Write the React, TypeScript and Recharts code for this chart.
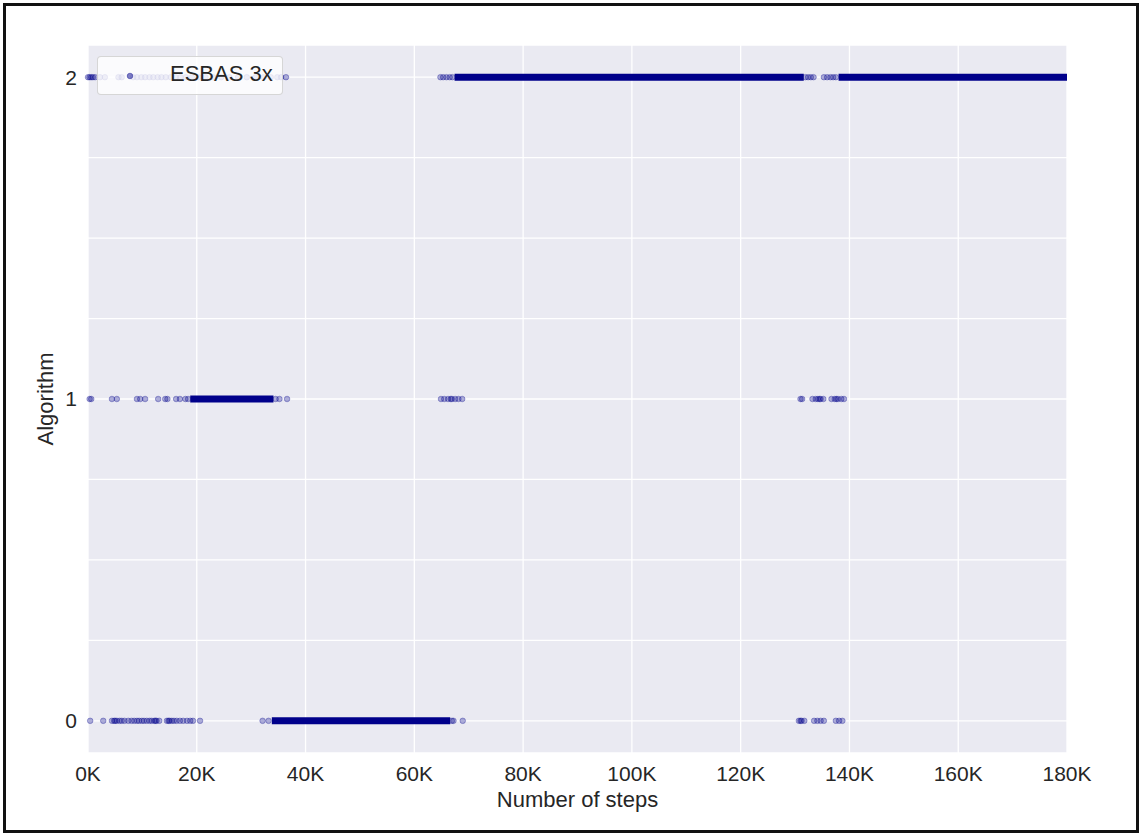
import React from 'react';
import {ScatterChart, Scatter, XAxis, YAxis, CartesianGrid, ReferenceLine, Legend} from 'recharts';

const NAVY = '#00008B';
const FONT = '"Liberation Sans", Arial, Helvetica, sans-serif';

// axis ticks (x in thousands of steps)
const X_TICKS = [0, 20, 40, 60, 80, 100, 120, 140, 160, 180];
const Y_TICKS = [0, 1, 2];
const Y_MINOR = [0.25, 0.5, 0.75, 1.25, 1.5, 1.75];

// algorithm 0: single picks + long dense stretches [from, to]
const ALGO0_POINTS = [
  0.4, 2.8, 4.4, 4.8, 5.0, 5.3, 5.8, 6.2, 6.7, 7.4, 8.0, 8.5, 9.0, 9.4, 9.9, 10.3, 10.8, 11.3, 11.7, 12.2,
  12.4, 12.6, 13.1, 14.5, 14.8, 15.0, 15.4, 15.8, 16.3, 16.9, 17.5, 18.2, 18.8, 19.3, 20.6, 32.1, 33.2, 66.9,
  67.2, 68.9, 130.7, 131.0, 131.2, 131.7, 133.5, 134.1, 134.7, 135.3, 137.5, 138.1, 138.7,
];
const ALGO0_RUNS = [[33.8, 66.6]];

// algorithm 1
const ALGO1_POINTS = [
  0.3, 0.6, 4.4, 5.3, 9.0, 9.6, 10.5, 12.9, 14.2, 14.6, 16.2, 16.9, 17.9, 18.4, 34.5, 35.2, 36.6, 64.9,
  65.5, 66.2, 66.7, 66.9, 67.5, 68.1, 68.8, 131.0, 131.3, 133.2, 133.8, 134.2, 134.5, 134.7, 135.2, 136.7,
  137.3, 137.6, 137.9, 138.5, 139.0,
];
const ALGO1_RUNS = [[18.8, 34.1]];

// algorithm 2
const ALGO2_POINTS = [
  0, 0.3, 0.6, 0.9, 1.3, 2.2, 3.1, 5.6, 6.2, 8.3, 9.0, 9.8, 10.5, 11.3, 12.0, 12.8, 13.5, 14.3, 15.2, 16.1,
  17.0, 18.0, 19.1, 20.3, 21.6, 23.0, 24.5, 26.0, 27.6, 29.2, 30.8, 32.3, 33.6, 34.8, 35.5, 36.4, 64.8,
  65.3, 65.9, 66.5, 67.0, 131.9, 132.4, 132.9, 133.4, 135.3, 135.9, 136.5, 137.0, 137.5,
];
const ALGO2_RUNS = [[67.4, 131.6], [138.0, 180]];

const toPoints = (xs: number[], y: number) => xs.map((x) => ({x, y}));

const tickStyle = {fontSize: 21, fill: '#262626', fontFamily: FONT};

const Dot = (props: any) => (
  <circle
    cx={props.cx}
    cy={props.cy}
    r={2.8}
    fill={NAVY}
    fillOpacity={0.3}
    stroke={NAVY}
    strokeOpacity={0.3}
    strokeWidth={1}
  />
);

const NoDot = () => <g />;

const LegendBox = () => (
  <div
    style={{
      position: 'relative',
      width: 186,
      height: 39,
      boxSizing: 'border-box',
      background: 'rgba(255,255,255,0.8)',
      border: '1px solid rgba(204,204,204,0.8)',
      borderRadius: 4,
      fontFamily: FONT,
    }}
  >
    <svg width={20} height={20} style={{position: 'absolute', left: 22, top: 9}}>
      <circle cx={10} cy={10} r={2.8} fill={NAVY} fillOpacity={0.5} stroke={NAVY} strokeOpacity={0.4} />
    </svg>
    <span
      style={{
        position: 'absolute',
        left: 72,
        top: 6,
        fontSize: 22,
        lineHeight: '22px',
        color: '#262626',
        whiteSpace: 'nowrap',
      }}
    >
      ESBAS 3x
    </span>
  </div>
);

const runsToSeries = (runs: number[][], y: number) =>
  runs.map((r) => [
    {x: r[0], y},
    {x: r[1], y},
  ]);

export default function App() {
  const series = [
    {y: 0, points: ALGO0_POINTS, runs: ALGO0_RUNS},
    {y: 1, points: ALGO1_POINTS, runs: ALGO1_RUNS},
    {y: 2, points: ALGO2_POINTS, runs: ALGO2_RUNS},
  ];

  return (
    <div style={{position: 'absolute', left: 0, top: 0, width: 1141, height: 833, background: '#fff'}}>
      <ScatterChart width={1141} height={833} margin={{top: 45, right: 74, left: 0, bottom: 0}}>
        <CartesianGrid fill='#EAEAF2' stroke='#ffffff' strokeWidth={1.3} />
        {Y_MINOR.map((v) => (
          <ReferenceLine key={`minor-${v}`} y={v} stroke='#ffffff' strokeWidth={1.3} />
        ))}
        <XAxis
          type='number'
          dataKey='x'
          domain={[0, 180]}
          ticks={X_TICKS}
          interval={0}
          tickFormatter={(v) => `${v}K`}
          tick={tickStyle}
          tickLine={false}
          axisLine={false}
          tickMargin={7}
          height={80}
          label={{
            value: 'Number of steps',
            position: 'insideBottom',
            offset: 26,
            style: {fontSize: 22, fill: '#262626', fontFamily: FONT},
          }}
        />
        <YAxis
          type='number'
          dataKey='y'
          domain={[-0.1, 2.1]}
          ticks={Y_TICKS}
          interval={0}
          tick={tickStyle}
          tickLine={false}
          axisLine={false}
          tickMargin={5}
          width={88}
          label={{
            value: 'Algorithm',
            angle: -90,
            position: 'center',
            dx: 1,
            style: {fontSize: 22, fill: '#262626', fontFamily: FONT},
          }}
        />
        {series.map((s) =>
          runsToSeries(s.runs, s.y).map((d, i) => (
            <Scatter
              key={`run-${s.y}-${i}`}
              data={d}
              line={{stroke: NAVY, strokeWidth: 7, strokeLinecap: 'butt'}}
              shape={NoDot}
              isAnimationActive={false}
              legendType='none'
            />
          )),
        )}
        {series.map((s) => (
          <Scatter
            key={`pts-${s.y}`}
            name='ESBAS 3x'
            data={toPoints(s.points, s.y)}
            shape={Dot}
            isAnimationActive={false}
          />
        ))}
        <Legend
          layout='horizontal'
          verticalAlign='middle'
          align='center'
          content={() => <LegendBox />}
          wrapperStyle={{left: 97, top: 56, width: 186, height: 39}}
        />
      </ScatterChart>
      <div
        style={{
          position: 'absolute',
          left: 3,
          top: 3,
          width: 1136,
          height: 830,
          boxSizing: 'border-box',
          border: '3px solid #111',
          pointerEvents: 'none',
        }}
      />
    </div>
  );
}
